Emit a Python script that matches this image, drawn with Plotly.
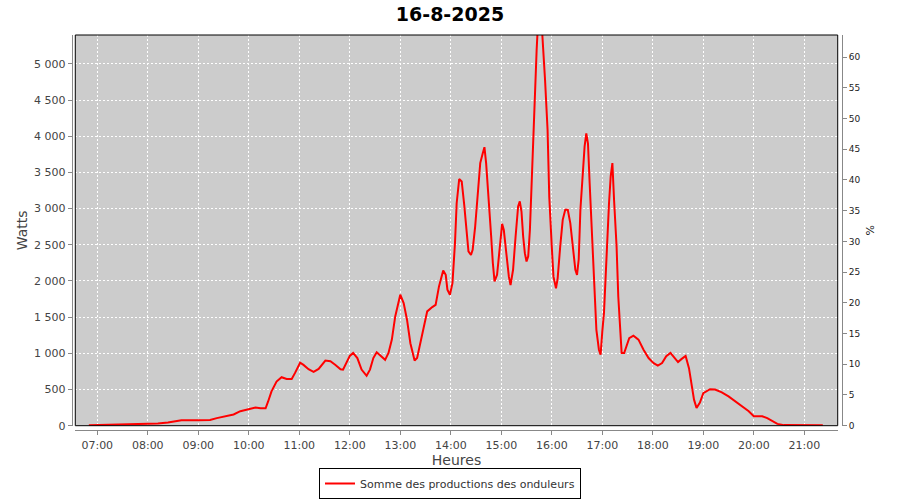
import plotly.graph_objects as go

day = "2025-08-16 "
times = [
    "06:50", "07:00", "07:20", "07:38", "07:40", "08:00", "08:12", "08:24", "08:35", "08:40",
    "09:00", "09:14", "09:22", "09:34", "09:42", "09:50", "10:02", "10:08", "10:14", "10:20",
    "10:23", "10:27", "10:33", "10:39", "10:45", "10:51", "10:55", "11:01", "11:05", "11:11",
    "11:17", "11:23", "11:31", "11:37", "11:43", "11:49", "11:52", "11:55", "12:00", "12:04",
    "12:09", "12:14", "12:20", "12:24", "12:28", "12:32", "12:37", "12:42", "12:46", "12:50",
    "12:54", "13:00", "13:04", "13:08", "13:12", "13:17", "13:20", "13:24", "13:28", "13:32",
    "13:38", "13:42", "13:46", "13:51", "13:54", "13:56", "13:59", "14:02", "14:05", "14:07",
    "14:10", "14:13", "14:16", "14:18", "14:21", "14:24", "14:26", "14:29", "14:32", "14:35",
    "14:38", "14:40", "14:42", "14:45", "14:48", "14:50", "14:52", "14:55", "14:58", "15:01",
    "15:03", "15:06", "15:09", "15:11", "15:14", "15:17", "15:20", "15:22", "15:24", "15:26",
    "15:28", "15:30", "15:32", "15:34", "15:36", "15:38", "15:40", "15:42", "15:44", "15:46",
    "15:48", "15:50", "15:52", "15:55", "15:57", "16:00", "16:02", "16:05", "16:07", "16:10",
    "16:13", "16:16", "16:19", "16:22", "16:25", "16:28", "16:30", "16:32", "16:34", "16:37",
    "16:39", "16:41", "16:43", "16:45", "16:48", "16:50", "16:53", "16:56", "16:58", "17:00",
    "17:02", "17:04", "17:06", "17:08", "17:10", "17:12", "17:14", "17:17", "17:19", "17:21",
    "17:23", "17:26", "17:29", "17:32", "17:37", "17:43", "17:49", "17:55", "18:01", "18:06",
    "18:11", "18:16", "18:21", "18:26", "18:30", "18:34", "18:39", "18:43", "18:46", "18:49",
    "18:52", "18:56", "19:00", "19:08", "19:14", "19:22", "19:30", "19:38", "19:46", "19:54",
    "20:00", "20:10", "20:16", "20:22", "20:28", "20:36", "21:00", "21:22",
]
watts = [
    5, 8, 10, 12, 22, 20, 30, 45, 65, 75,
    75, 78, 105, 130, 155, 200, 230, 250, 240, 240,
    335, 475, 610, 670, 645, 645, 730, 870, 840, 780,
    745, 785, 900, 890, 840, 780, 775, 840, 965, 1005,
    935, 775, 690, 775, 935, 1015, 960, 910, 1005, 1190,
    1510, 1810, 1695, 1465, 1140, 900, 935, 1165, 1370, 1580,
    1640, 1670, 1925, 2145, 2085, 1880, 1810, 1970, 2525, 3075,
    3410, 3375, 3050, 2755, 2410, 2360, 2430, 2755, 3260, 3630,
    3765, 3850, 3630, 3165, 2615, 2245, 1995, 2085, 2475, 2790,
    2705, 2385, 2060, 1945, 2155, 2615, 3030, 3100, 2960, 2615,
    2385, 2270, 2340, 2705, 3400, 4000, 4640, 5190, 5650, 5800,
    5550, 5200, 4780, 4090, 3165, 2475, 2060, 1900, 2040, 2475,
    2845, 2985, 2985, 2800, 2430, 2155, 2085, 2300, 2985, 3490,
    3860, 4040, 3900, 3350, 2525, 1925, 1325, 1050, 980, 1300,
    1555, 2060, 2615, 3075, 3445, 3630, 3120, 2475, 1785, 1325,
    1005, 1005, 1120, 1210, 1245, 1190, 1050, 935, 865, 830,
    865, 960, 1005, 935, 880, 920, 965, 795, 545, 360,
    245, 320, 450, 505, 500, 460, 405, 335, 275, 200,
    130, 130, 105, 60, 25, 8, 5, 5,
]

x_range = [day + "06:33:54", day + "21:39:42"]
hour_ticks = [day + "%02d:00" % h for h in range(7, 22)]
hour_labels = ["%02d:00" % h for h in range(7, 22)]
watt_ticks = list(range(0, 5001, 500))
pct_ticks = list(range(0, 61, 5))
watt_range = [0, 5400]
pct_range = [0, 63.6]

xs = [day + t for t in times]

FONT = "DejaVu Sans"
TICK_COL = "#444444"
AXIS_COL = "#888888"

fig = go.Figure()
fig.add_trace(go.Scatter(
    x=xs, y=watts, mode="lines",
    line=dict(color="#ff0000", width=2),
    name="Somme des productions des onduleurs",
    hoverinfo="skip",
))
# invisible trace to host the percentage axis
fig.add_trace(go.Scatter(
    x=[xs[0], xs[-1]], y=[0, 0], yaxis="y2", mode="lines",
    line=dict(width=0), opacity=0, showlegend=False, hoverinfo="skip",
))

fig.update_layout(
    template="none",
    width=900, height=500,
    margin=dict(l=65, r=52, t=35, b=64, autoexpand=False),
    paper_bgcolor="white",
    plot_bgcolor="#cccccc",
    separators=", ",
    hovermode=False,
    font=dict(family=FONT, size=11, color=TICK_COL),
    title=dict(text="<b>16-8-2025</b>", x=0.5, xref="container", xanchor="center",
               y=0.972, yref="container", yanchor="middle",
               font=dict(family=FONT, size=19, color="black")),
    showlegend=True,
    legend=dict(
        orientation="h", xref="container", yref="container",
        x=0.5, xanchor="center", y=0.002, yanchor="bottom",
        bgcolor="white", bordercolor="black", borderwidth=1,
        font=dict(family=FONT, size=11, color="#333333"),
        itemwidth=30,
    ),
    xaxis=dict(
        domain=[0.01315, 0.98685], anchor="free", position=0.0142,
        type="date", range=x_range, automargin=False,
        tickvals=hour_ticks, ticktext=hour_labels,
        showgrid=True, gridcolor="white", griddash="2px,2px", gridwidth=1,
        showline=True, linecolor=AXIS_COL, linewidth=1,
        ticks="outside", ticklen=4, tickcolor=AXIS_COL,
        tickfont=dict(family=FONT, size=11, color=TICK_COL),
        title=dict(text="Heures", font=dict(family=FONT, size=14, color=TICK_COL), standoff=8),
        zeroline=False, fixedrange=True,
    ),
    yaxis=dict(
        domain=[0.0257, 1.0], anchor="free", position=0.00856,
        range=watt_range, tickvals=watt_ticks, tickformat=",d", automargin=False,
        showgrid=True, gridcolor="white", griddash="2px,2px", gridwidth=1,
        showline=True, linecolor=AXIS_COL, linewidth=1,
        ticks="outside", ticklen=4, tickcolor=AXIS_COL,
        tickfont=dict(family=FONT, size=11, color=TICK_COL),
        title=dict(text="Watts", font=dict(family=FONT, size=14, color=TICK_COL), standoff=2),
        zeroline=False, fixedrange=True,
    ),
    yaxis2=dict(
        overlaying="y", side="right", anchor="free", position=0.99234,
        range=pct_range, tickvals=pct_ticks, automargin=False,
        showgrid=False,
        showline=True, linecolor=AXIS_COL, linewidth=1,
        ticks="outside", ticklen=4, tickcolor=AXIS_COL,
        tickfont=dict(family=FONT, size=9, color="#222222"),
        title=dict(text="%", font=dict(family=FONT, size=11, color="#222222"), standoff=6),
        zeroline=False, fixedrange=True,
    ),
    shapes=[dict(
        type="rect", xref="x domain", yref="y domain", x0=0, x1=1, y0=0, y1=1,
        line=dict(color="black", width=1), fillcolor="rgba(0,0,0,0)", layer="above",
    )],
)

fig.write_html("out.html", config={"displayModeBar": False, "staticPlot": True},
               post_script="document.body.style.margin='0px';")
